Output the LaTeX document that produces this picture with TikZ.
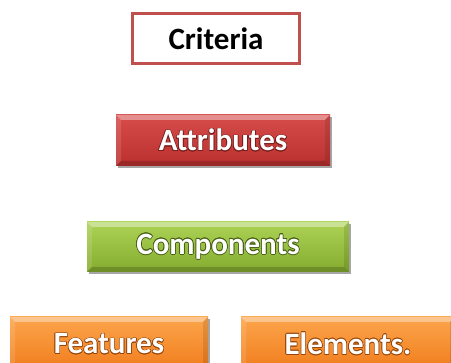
\documentclass[tikz,border=0pt]{standalone}
\usepackage{fontspec}
\setmainfont{Carlito}
\usepackage{contour}
\contourlength{0.6pt}
\contournumber{16}
\usetikzlibrary{shadows}

\definecolor{critline}{RGB}{192,80,77}
\definecolor{redtop}{RGB}{214,76,74}
\definecolor{redbot}{RGB}{186,48,46}
\definecolor{redglow}{RGB}{120,30,28}
\definecolor{greentop}{RGB}{172,210,86}
\definecolor{greenbot}{RGB}{132,172,46}
\definecolor{greenglow}{RGB}{70,95,20}
\definecolor{orangetop}{RGB}{252,165,75}
\definecolor{orangebot}{RGB}{240,124,28}
\definecolor{orangeglow}{RGB}{150,70,10}

\tikzset{
  label font/.style={font=\fontsize{31}{36}\selectfont\bfseries},
  bevel/.style={
    path picture={
      \coordinate (bnw) at (path picture bounding box.north west);
      \coordinate (bne) at (path picture bounding box.north east);
      \coordinate (bsw) at (path picture bounding box.south west);
      \coordinate (bse) at (path picture bounding box.south east);
      \fill[white,opacity=.38] (bnw) -- (bne) -- ([shift={(-5pt,-5pt)}]bne) -- ([shift={(5pt,-5pt)}]bnw) -- cycle;
      \fill[black,opacity=.18] (bsw) -- (bse) -- ([shift={(-5pt,5pt)}]bse) -- ([shift={(5pt,5pt)}]bsw) -- cycle;
      \fill[white,opacity=.12] (bnw) -- (bsw) -- ([shift={(5pt,5pt)}]bsw) -- ([shift={(5pt,-5pt)}]bnw) -- cycle;
      \fill[black,opacity=.10] (bne) -- (bse) -- ([shift={(-5pt,5pt)}]bse) -- ([shift={(-5pt,-5pt)}]bne) -- cycle;
    }
  },
  button/.style 2 args={
    rectangle, inner sep=0pt, label font, text=white,
    top color=#1, bottom color=#2,
    drop shadow={shadow xshift=1.5pt, shadow yshift=-2pt, opacity=.35, fill=black},
    bevel
  },
  redbutton/.style={button={redtop}{redbot}},
  greenbutton/.style={button={greentop}{greenbot}},
  orangebutton/.style={button={orangetop}{orangebot}},
  outlinebox/.style={
    rectangle, inner sep=0pt, label font, text=black, fill=white,
    draw=critline, line width=2.6pt,
    drop shadow={shadow xshift=1pt, shadow yshift=-1.5pt, opacity=.2, fill=black}
  }
}

\begin{document}
\begin{tikzpicture}[x=1pt,y=-1pt]
  \useasboundingbox (0,0) rectangle (451,363);
  \begin{scope}
    \clip (0,0) rectangle (451,363);
    \node[outlinebox, minimum width=167pt, minimum height=50pt] (crit) at (216,38.5) {Criteria};
    \node[redbutton, minimum width=214pt, minimum height=51pt] (attr) at (223,140.5) {\contour{redglow}{Attributes}};
    \node[greenbutton, minimum width=262pt, minimum height=50pt] (comp) at (218,247) {\contour{greenglow}{Components}};
    \node[orangebutton, minimum width=198pt, minimum height=54pt] (feat) at (109,344) {\contour{orangeglow}{Features}};
    \node[orangebutton, minimum width=214pt, minimum height=54pt] (elem) at (348,344) {\contour{orangeglow}{Elements.}};
  \end{scope}
\end{tikzpicture}
\end{document}
